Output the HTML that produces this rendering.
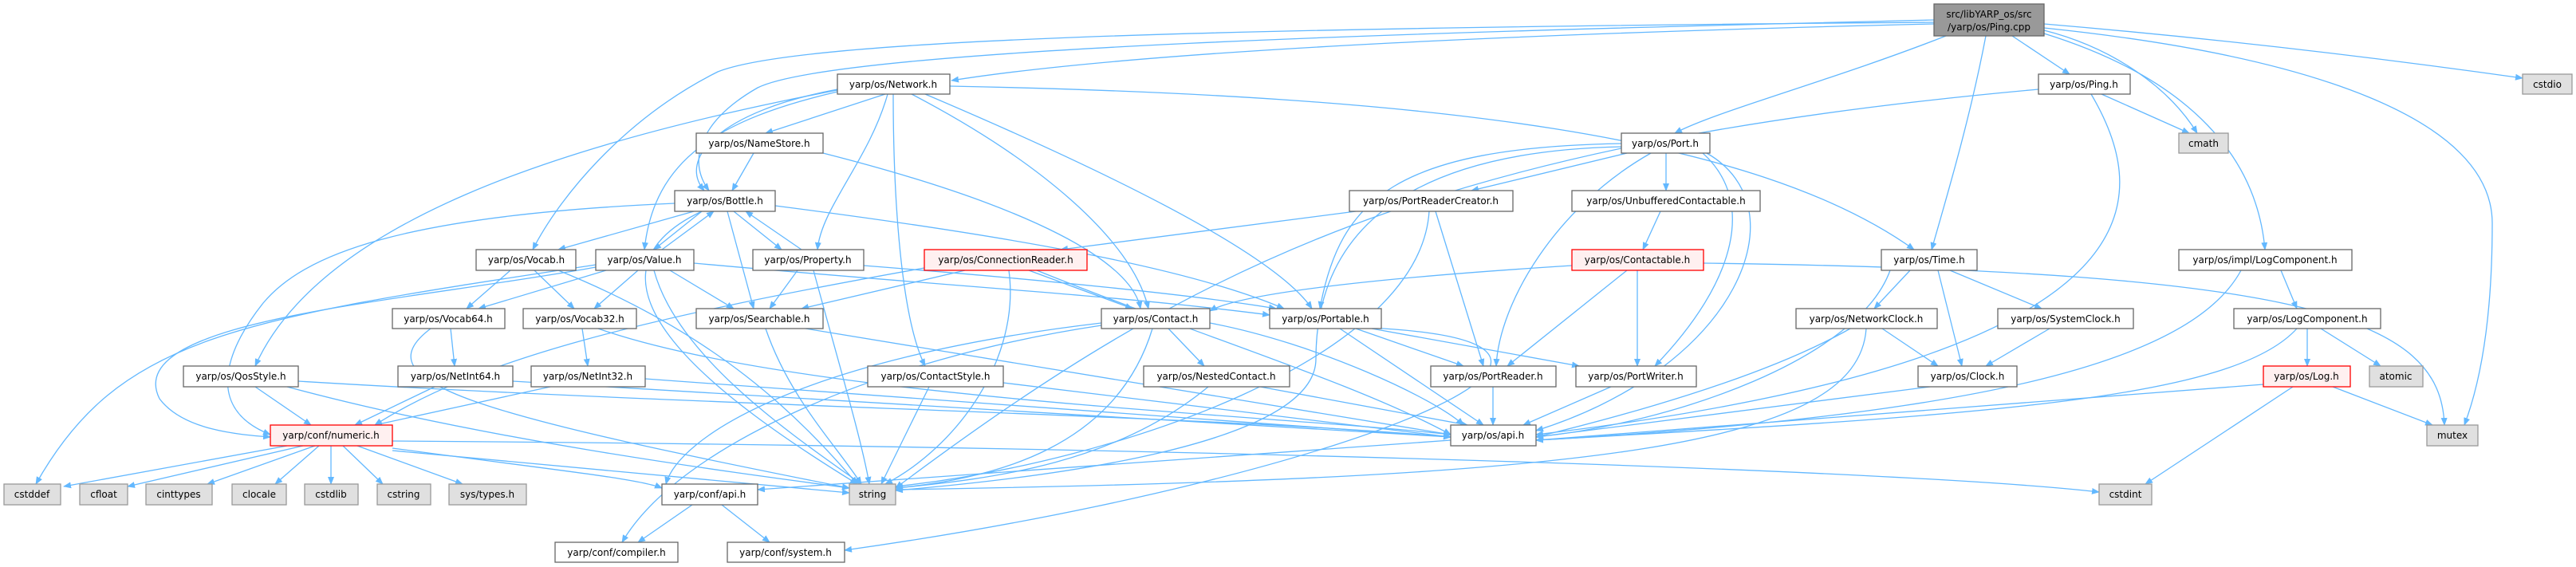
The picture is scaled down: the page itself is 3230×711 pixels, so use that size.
<!DOCTYPE html>
<html><head><meta charset="utf-8"><style>
html,body{margin:0;padding:0;background:#fff;}
svg{display:block;}
.e{fill:none;stroke:#63b8ff;stroke-width:1.3;marker-end:url(#a);}
.n{fill:#fff;stroke:#666;stroke-width:1.3;}
.r{fill:#fff0f0;stroke:#f00;stroke-width:1.3;}
.g{fill:#e0e0e0;stroke:#999;stroke-width:1.3;}
.p{fill:#999;stroke:#666;stroke-width:1.3;}
text{font-family:"DejaVu Sans","Liberation Sans",sans-serif;font-size:12px;fill:#000;text-anchor:middle;}
</style></head><body>
<svg width="3230" height="711" viewBox="0 0 3230 711" xmlns="http://www.w3.org/2000/svg">
<defs><marker id="a" markerWidth="10" markerHeight="8" refX="9" refY="4" orient="auto" markerUnits="userSpaceOnUse"><path d="M0,0 L10,4 L0,8 z" fill="#63b8ff"/></marker></defs>
<g>
<!-- Ping.cpp -->
<path class="e" d="M2425,30 C2000,40 1450,60 1193,101"/>
<path class="e" d="M2523,45 L2595,93"/>
<path class="e" d="M2563,30 C2800,50 3000,75 3163,98"/>
<path class="e" d="M2563,38 C2650,60 2720,110 2755,167"/>
<path class="e" d="M2440,45 C2300,100 2150,140 2100,167"/>
<path class="e" d="M2490,45 C2470,150 2440,250 2422,313"/>
<path class="e" d="M2563,42 C2750,100 2830,200 2840,313"/>
<path class="e" d="M2563,35 C2900,70 3125,150 3125,280 C3125,400 3110,480 3090,533"/>
<path class="e" d="M2425,25 C1800,40 1050,60 950,110 C880,150 860,200 889,239"/>
<path class="e" d="M2425,28 C1500,35 1000,50 900,90 C780,150 700,250 668,313"/>
<!-- Network -->
<path class="e" d="M1110,118 L960,167"/>
<path class="e" d="M1050,112 C900,140 850,200 883,239"/>
<path class="e" d="M1050,115 C900,150 820,200 808,313"/>
<path class="e" d="M1113,118 C1090,200 1030,260 1025,313"/>
<path class="e" d="M1143,118 C1300,200 1420,300 1440,387"/>
<path class="e" d="M1120,118 C1120,250 1130,400 1160,459"/>
<path class="e" d="M1160,118 C1400,220 1600,320 1645,387"/>
<path class="e" d="M1050,113 C700,180 400,280 320,459"/>
<path class="e" d="M1191,108 C1800,120 2200,170 2400,313"/>
<!-- NameStore -->
<path class="e" d="M945,192 L918,239"/>
<path class="e" d="M1032,192 C1300,260 1420,330 1430,387"/>
<!-- Port -->
<path class="e" d="M2040,192 L1845,239"/>
<path class="e" d="M2089,192 L2089,239"/>
<path class="e" d="M2033,180 C1750,185 1680,250 1655,387"/>
<path class="e" d="M2070,192 C1950,260 1880,380 1876,459"/>
<path class="e" d="M2135,192 C2200,250 2180,350 2075,459"/>
<path class="e" d="M2140,192 C2260,260 2180,460 1926,540"/>
<path class="e" d="M2033,184 C1750,190 1650,300 1650,450 C1650,560 1300,600 1123,615"/>
<!-- Ping.h -->
<path class="e" d="M2635,118 L2745,167"/>
<path class="e" d="M2622,118 C2700,250 2720,450 1926,545"/>
<path class="e" d="M2556,112 C1800,180 1500,330 1123,612"/>
<!-- Bottle -->
<path class="e" d="M870,265 L700,313"/>
<path class="e" d="M880,265 L820,313"/>
<path class="e" d="M830,313 L895,265"/>
<path class="e" d="M920,265 L980,313"/>
<path class="e" d="M1005,313 L935,265"/>
<path class="e" d="M912,265 L945,387"/>
<path class="e" d="M972,258 C1300,300 1500,340 1610,387"/>
<path class="e" d="M880,265 C700,350 900,500 1075,607"/>
<path class="e" d="M846,255 C500,270 380,320 330,380 C290,430 250,510 339,545"/>
<!-- Value -->
<path class="e" d="M760,339 L600,387"/>
<path class="e" d="M800,339 L745,387"/>
<path class="e" d="M840,339 L920,387"/>
<path class="e" d="M870,330 C1200,360 1400,370 1592,395"/>
<path class="e" d="M820,339 C850,450 1000,550 1080,607"/>
<path class="e" d="M747,335 C500,380 150,400 200,500 C230,540 300,545 339,548"/>
<path class="e" d="M747,332 C300,400 150,420 45,607"/>
<!-- Vocab -->
<path class="e" d="M640,339 L585,387"/>
<path class="e" d="M670,339 L720,387"/>
<path class="e" d="M700,339 C900,420 1000,520 1075,607"/>
<!-- Property -->
<path class="e" d="M1000,339 L965,387"/>
<path class="e" d="M1083,333 C1300,350 1500,370 1600,387"/>
<path class="e" d="M1020,339 C1050,450 1080,550 1090,607"/>
<!-- ConnectionReader -->
<path class="e" d="M1210,339 L1005,387"/>
<path class="e" d="M1290,339 L1420,387"/>
<path class="e" d="M1265,339 C1280,450 1200,560 1110,607"/>
<path class="e" d="M1300,339 C1500,420 1700,480 1819,545"/>
<path class="e" d="M1159,336 C800,400 600,450 470,533"/>
<!-- PortReaderCreator / Unbuffered -->
<path class="e" d="M1700,265 L1330,313"/>
<path class="e" d="M1800,265 L1860,459"/>
<path class="e" d="M1792,265 C1780,450 1400,580 1123,610"/>
<path class="e" d="M2082,265 L2060,313"/>
<!-- Contactable -->
<path class="e" d="M1971,333 C1700,350 1550,370 1517,390"/>
<path class="e" d="M2040,339 L1890,459"/>
<path class="e" d="M2053,339 L2053,459"/>
<path class="e" d="M2136,330 C2900,340 3060,400 3065,533"/>
<!-- Time / impl LogComponent -->
<path class="e" d="M2395,339 L2350,387"/>
<path class="e" d="M2445,339 L2560,387"/>
<path class="e" d="M2430,339 L2460,459"/>
<path class="e" d="M2370,339 C2330,450 2100,530 1926,548"/>
<path class="e" d="M2860,339 L2880,387"/>
<path class="e" d="M2810,339 C2750,450 2500,520 1926,552"/>
<!-- Contact -->
<path class="e" d="M1465,412 L1510,459"/>
<path class="e" d="M1445,412 C1400,560 1250,600 1123,612"/>
<path class="e" d="M1517,405 C1650,430 1800,500 1835,533"/>
<path class="e" d="M1381,405 C1000,450 850,550 835,607"/>
<path class="e" d="M1381,408 C1100,450 850,560 780,680"/>
<!-- Portable -->
<path class="e" d="M1700,412 L1835,459"/>
<path class="e" d="M1720,412 L1980,459"/>
<path class="e" d="M1680,412 L1860,533"/>
<path class="e" d="M1600,410 C2200,400 1700,600 1059,690"/>
<!-- NetworkClock / SystemClock / LogComponent -->
<path class="e" d="M2360,412 L2430,459"/>
<path class="e" d="M2320,412 C2200,480 2000,530 1926,548"/>
<path class="e" d="M2340,412 C2330,560 2000,600 1123,614"/>
<path class="e" d="M2570,412 L2490,459"/>
<path class="e" d="M2893,412 L2893,459"/>
<path class="e" d="M2910,412 L2985,459"/>
<path class="e" d="M2880,412 C2800,500 2500,520 1926,552"/>
<!-- Searchable / Vocab64 / Vocab32 -->
<path class="e" d="M960,412 C990,500 1050,560 1080,607"/>
<path class="e" d="M1010,412 L1819,545"/>
<path class="e" d="M565,412 L570,459"/>
<path class="e" d="M540,412 C450,480 600,520 1065,612"/>
<path class="e" d="M730,412 L737,459"/>
<path class="e" d="M750,412 C1000,500 1600,520 1819,545"/>
<!-- row 3 -->
<path class="e" d="M320,485 L390,533"/>
<path class="e" d="M374,478 C900,510 1500,520 1819,548"/>
<path class="e" d="M360,485 C600,550 900,590 1065,612"/>
<path class="e" d="M545,485 L445,533"/>
<path class="e" d="M643,478 L1819,548"/>
<path class="e" d="M690,485 L470,533"/>
<path class="e" d="M809,475 L1819,548"/>
<path class="e" d="M1165,485 L1105,607"/>
<path class="e" d="M1258,480 L1819,548"/>
<path class="e" d="M1515,485 C1400,580 1250,600 1123,612"/>
<path class="e" d="M1580,485 L1840,533"/>
<path class="e" d="M1872,485 L1872,533"/>
<path class="e" d="M2020,485 L1910,533"/>
<path class="e" d="M2420,485 L1926,548"/>
<path class="e" d="M2925,485 L3050,533"/>
<path class="e" d="M2875,485 L2690,607"/>
<path class="e" d="M2838,482 L1926,552"/>
<!-- numeric -->
<path class="e" d="M360,559 L80,610"/>
<path class="e" d="M380,559 L160,610"/>
<path class="e" d="M395,559 L260,607"/>
<path class="e" d="M400,559 L345,607"/>
<path class="e" d="M415,559 L415,607"/>
<path class="e" d="M430,559 L480,607"/>
<path class="e" d="M448,559 L580,607"/>
<path class="e" d="M492,565 L1065,618"/>
<path class="e" d="M492,562 C700,590 800,600 830,612"/>
<path class="e" d="M492,553 C1500,560 2400,590 2632,617"/>
<!-- os/api, conf/api -->
<path class="e" d="M1819,552 L950,614"/>
<path class="e" d="M868,633 L800,680"/>
<path class="e" d="M905,633 L965,680"/>
</g>
<g>
<rect class="p" x="2425" y="5" width="138" height="40"/><text x="2494" y="22">src/libYARP_os/src</text><text x="2494" y="38">/yarp/os/Ping.cpp</text>
<rect class="n" x="1050" y="93" width="141" height="25"/><text x="1120" y="110">yarp/os/Network.h</text>
<rect class="n" x="2556" y="93" width="115" height="25"/><text x="2613" y="110">yarp/os/Ping.h</text>
<rect class="g" x="3163" y="93" width="62" height="25"/><text x="3194" y="110">cstdio</text>
<rect class="n" x="873" y="167" width="159" height="25"/><text x="952" y="184">yarp/os/NameStore.h</text>
<rect class="n" x="2033" y="167" width="111" height="25"/><text x="2088" y="184">yarp/os/Port.h</text>
<rect class="g" x="2732" y="167" width="62" height="25"/><text x="2763" y="184">cmath</text>
<rect class="n" x="846" y="239" width="126" height="26"/><text x="909" y="256">yarp/os/Bottle.h</text>
<rect class="n" x="1692" y="239" width="205" height="26"/><text x="1794" y="256">yarp/os/PortReaderCreator.h</text>
<rect class="n" x="1971" y="239" width="236" height="26"/><text x="2089" y="256">yarp/os/UnbufferedContactable.h</text>
<rect class="n" x="597" y="313" width="125" height="26"/><text x="660" y="330">yarp/os/Vocab.h</text>
<rect class="n" x="747" y="313" width="123" height="26"/><text x="808" y="330">yarp/os/Value.h</text>
<rect class="n" x="944" y="313" width="139" height="26"/><text x="1013" y="330">yarp/os/Property.h</text>
<rect class="r" x="1159" y="313" width="204" height="26"/><text x="1261" y="330">yarp/os/ConnectionReader.h</text>
<rect class="r" x="1971" y="313" width="165" height="26"/><text x="2053" y="330">yarp/os/Contactable.h</text>
<rect class="n" x="2359" y="313" width="120" height="26"/><text x="2419" y="330">yarp/os/Time.h</text>
<rect class="n" x="2732" y="313" width="217" height="26"/><text x="2840" y="330">yarp/os/impl/LogComponent.h</text>
<rect class="n" x="492" y="387" width="141" height="25"/><text x="562" y="404">yarp/os/Vocab64.h</text>
<rect class="n" x="656" y="387" width="142" height="25"/><text x="727" y="404">yarp/os/Vocab32.h</text>
<rect class="n" x="873" y="387" width="159" height="25"/><text x="952" y="404">yarp/os/Searchable.h</text>
<rect class="n" x="1381" y="387" width="136" height="25"/><text x="1449" y="404">yarp/os/Contact.h</text>
<rect class="n" x="1592" y="387" width="140" height="25"/><text x="1662" y="404">yarp/os/Portable.h</text>
<rect class="n" x="2252" y="387" width="177" height="25"/><text x="2340" y="404">yarp/os/NetworkClock.h</text>
<rect class="n" x="2505" y="387" width="170" height="25"/><text x="2590" y="404">yarp/os/SystemClock.h</text>
<rect class="n" x="2801" y="387" width="184" height="25"/><text x="2893" y="404">yarp/os/LogComponent.h</text>
<rect class="n" x="230" y="459" width="144" height="26"/><text x="302" y="476">yarp/os/QosStyle.h</text>
<rect class="n" x="499" y="459" width="144" height="26"/><text x="571" y="476">yarp/os/NetInt64.h</text>
<rect class="n" x="666" y="459" width="143" height="26"/><text x="737" y="476">yarp/os/NetInt32.h</text>
<rect class="n" x="1088" y="459" width="170" height="26"/><text x="1173" y="476">yarp/os/ContactStyle.h</text>
<rect class="n" x="1434" y="459" width="183" height="26"/><text x="1525" y="476">yarp/os/NestedContact.h</text>
<rect class="n" x="1794" y="459" width="157" height="26"/><text x="1872" y="476">yarp/os/PortReader.h</text>
<rect class="n" x="1976" y="459" width="151" height="26"/><text x="2051" y="476">yarp/os/PortWriter.h</text>
<rect class="n" x="2405" y="459" width="124" height="26"/><text x="2467" y="476">yarp/os/Clock.h</text>
<rect class="r" x="2838" y="459" width="109" height="26"/><text x="2892" y="476">yarp/os/Log.h</text>
<rect class="g" x="2971" y="459" width="67" height="26"/><text x="3004" y="476">atomic</text>
<rect class="r" x="339" y="533" width="153" height="26"/><text x="415" y="550">yarp/conf/numeric.h</text>
<rect class="n" x="1819" y="533" width="107" height="26"/><text x="1872" y="550">yarp/os/api.h</text>
<rect class="g" x="3043" y="533" width="64" height="26"/><text x="3075" y="550">mutex</text>
<rect class="g" x="5" y="607" width="71" height="26"/><text x="40" y="624">cstddef</text>
<rect class="g" x="100" y="607" width="60" height="26"/><text x="130" y="624">cfloat</text>
<rect class="g" x="183" y="607" width="83" height="26"/><text x="224" y="624">cinttypes</text>
<rect class="g" x="291" y="607" width="68" height="26"/><text x="325" y="624">clocale</text>
<rect class="g" x="382" y="607" width="67" height="26"/><text x="415" y="624">cstdlib</text>
<rect class="g" x="473" y="607" width="67" height="26"/><text x="506" y="624">cstring</text>
<rect class="g" x="563" y="607" width="97" height="26"/><text x="611" y="624">sys/types.h</text>
<rect class="n" x="830" y="607" width="120" height="26"/><text x="890" y="624">yarp/conf/api.h</text>
<rect class="g" x="1065" y="607" width="58" height="26"/><text x="1094" y="624">string</text>
<rect class="g" x="2632" y="607" width="66" height="26"/><text x="2665" y="624">cstdint</text>
<rect class="n" x="696" y="680" width="154" height="25"/><text x="773" y="697">yarp/conf/compiler.h</text>
<rect class="n" x="912" y="680" width="147" height="25"/><text x="985" y="697">yarp/conf/system.h</text>
</g>
</svg>
</body></html>
